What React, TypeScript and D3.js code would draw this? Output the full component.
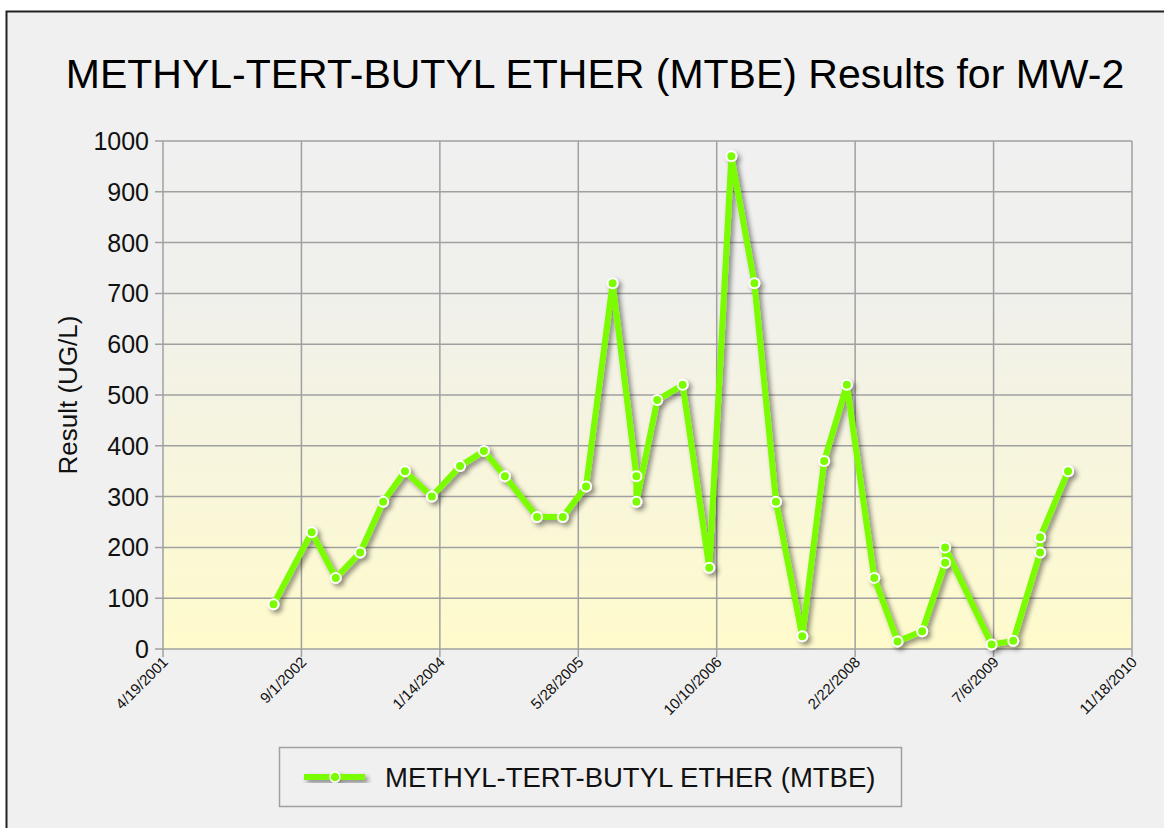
import React from "react";
import * as d3 from "d3";

// sample dates and MTBE results (UG/L) for MW-2
const sampleDates = [
  "2002-05-23", "2002-10-08", "2003-01-03", "2003-04-01", "2003-06-23",
  "2003-09-10", "2003-12-16", "2004-03-27", "2004-06-21", "2004-09-05",
  "2004-12-30", "2005-04-02", "2005-06-25", "2005-09-29", "2005-12-24",
  "2005-12-24", "2006-03-09", "2006-06-09", "2006-09-13", "2006-12-02",
  "2007-02-23", "2007-05-12", "2007-08-15", "2007-11-02", "2008-01-23",
  "2008-05-01", "2008-07-24", "2008-10-21", "2009-01-12", "2009-01-12",
  "2009-06-29", "2009-09-15", "2009-12-21", "2009-12-21", "2010-04-01",
];
const results = [
  88, 230, 140, 190, 290,
  350, 300, 360, 390, 340,
  260, 260, 320, 720, 340,
  290, 490, 520, 160, 970,
  720, 290, 25, 370, 520,
  140, 15, 35, 170, 200,
  9, 16, 190, 220, 350,
];
const xTickLabels = [
  "4/19/2001", "9/1/2002", "1/14/2004", "5/28/2005",
  "10/10/2006", "2/22/2008", "7/6/2009", "11/18/2010",
];
const yTicks = [0, 100, 200, 300, 400, 500, 600, 700, 800, 900, 1000];
const seriesName = "METHYL-TERT-BUTYL ETHER (MTBE)";
const title = "METHYL-TERT-BUTYL ETHER (MTBE) Results for MW-2";

const green = "#7cfc00";
const font = "'Liberation Sans', Arial, sans-serif";

export default function App() {
  const width = 1164;
  const height = 828;
  const left = 163, right = 1132, top = 141, bottom = 649;

  const parse = d3.timeParse("%Y-%m-%d");
  const parseTick = d3.timeParse("%m/%d/%Y");
  const tickDates = xTickLabels.map((t) => parseTick(t) as Date);

  const x = d3
    .scaleTime()
    .domain([tickDates[0], tickDates[tickDates.length - 1]])
    .range([left, right]);
  const y = d3.scaleLinear().domain([0, 1000]).range([bottom, top]);

  const points = sampleDates.map((d, i) => ({ date: parse(d) as Date, v: results[i] }));
  const line = d3
    .line<{ date: Date; v: number }>()
    .x((d) => x(d.date))
    .y((d) => y(d.v));

  return (
    <svg
      width={width}
      height={height}
      style={{ position: "absolute", left: 0, top: 0, background: "#fff" }}
      fontFamily={font}
    >
      <defs>
        <linearGradient id="plotBg" x1="0" y1="0" x2="0" y2="1">
          <stop offset="0%" stopColor="#f0f0f0" />
          <stop offset="30%" stopColor="#f0f0ec" />
          <stop offset="100%" stopColor="#fffbcc" />
        </linearGradient>
        <filter id="shadow" x="-10%" y="-10%" width="120%" height="120%">
          <feDropShadow dx="3" dy="3" stdDeviation="2.5" floodColor="#000" floodOpacity="0.45" />
        </filter>
      </defs>

      <rect x={6.5} y={11.5} width={1200} height={900} fill="#f0f0f0" stroke="#222" strokeWidth={2} />

      <text x={595} y={88} textAnchor="middle" fontSize={41} fill="#000">
        {title}
      </text>

      <rect x={left} y={top} width={right - left} height={bottom - top} fill="url(#plotBg)" />

      {yTicks.map((t) => (
        <g key={t}>
          <line x1={155} x2={right} y1={y(t)} y2={y(t)} stroke="#a0a0a0" strokeWidth={1.5} />
          <text x={149} y={y(t)} dy="0.36em" textAnchor="end" fontSize={25} fill="#111">
            {t}
          </text>
        </g>
      ))}
      {tickDates.map((d, i) => (
        <g key={i}>
          <line x1={x(d)} x2={x(d)} y1={top} y2={bottom + 8} stroke="#a0a0a0" strokeWidth={1.5} />
          <text
            transform={`translate(${x(d) + 6},${bottom + 14}) rotate(-45)`}
            textAnchor="end"
            fontSize={15}
            fill="#111"
          >
            {xTickLabels[i]}
          </text>
        </g>
      ))}

      <text
        transform={`translate(77,${(top + bottom) / 2}) rotate(-90)`}
        textAnchor="middle"
        fontSize={26}
        fill="#111"
      >
        Result (UG/L)
      </text>

      <g filter="url(#shadow)">
        <path d={line(points) || ""} fill="none" stroke={green} strokeWidth={6} strokeLinejoin="miter" />
        {points.map((p, i) => (
          <circle key={i} cx={x(p.date)} cy={y(p.v)} r={5} fill={green} stroke="#fff" strokeWidth={2} />
        ))}
      </g>

      <rect x={279.5} y={747.5} width={622} height={59} fill="none" stroke="#a0a0a0" strokeWidth={1.5} />
      <g filter="url(#shadow)">
        <line x1={304} x2={365} y1={777} y2={777} stroke={green} strokeWidth={6} />
        <circle cx={335} cy={777} r={5} fill={green} stroke="#fff" strokeWidth={1.5} />
      </g>
      <text x={385} y={787} fontSize={27.5} fill="#111">
        {seriesName}
      </text>
    </svg>
  );
}
